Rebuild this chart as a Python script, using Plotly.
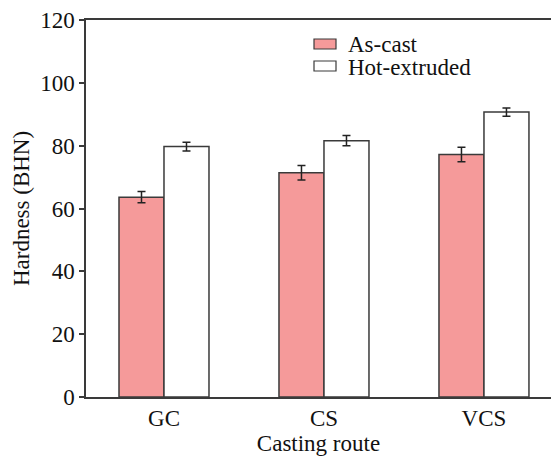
import plotly.graph_objects as go

categories = ["GC", "CS", "VCS"]
as_cast = [63.6, 71.4, 77.2]
as_cast_err = [1.8, 2.3, 2.3]
hot_extruded = [79.7, 81.6, 90.7]
hot_extruded_err = [1.4, 1.6, 1.3]
y_ticks = [0, 20, 40, 60, 80, 100, 120]
series_names = ["As-cast", "Hot-extruded"]
series_colors = ["#F59A9A", "#FFFFFF"]

FONT = "Liberation Serif"
LINE = "#3a3a3a"
FS = 23

# plot area in pixels (for placing the hand-drawn legend)
L, R, T, B = 86, 551, 20, 397
def px(x):
    return (x - L) / (R - L)
def py(y):
    return (B - y) / (B - T)

fig = go.Figure()
for name, color, vals, errs in [
    (series_names[0], series_colors[0], as_cast, as_cast_err),
    (series_names[1], series_colors[1], hot_extruded, hot_extruded_err),
]:
    fig.add_trace(go.Bar(
        x=categories, y=vals, name=name,
        marker=dict(color=color, line=dict(color=LINE, width=1.5)),
        error_y=dict(type="data", array=errs, color="#222222", thickness=1.5, width=4),
        showlegend=False,
    ))

# legend (rectangular swatches like the reference)
legend_rows = [(39, 49, 45), (61, 71, 67)]
for (y0, y1, yc), name, color in zip(legend_rows, series_names, series_colors):
    fig.add_shape(type="rect", xref="paper", yref="paper",
                  x0=px(314), x1=px(336), y0=py(y1), y1=py(y0),
                  fillcolor=color, line=dict(color=LINE, width=1.2))
    fig.add_annotation(xref="paper", yref="paper", x=px(346), y=py(yc),
                       xanchor="left", yanchor="middle", showarrow=False,
                       text=name, font=dict(family=FONT, size=FS, color="#111111"))

fig.update_layout(
    width=551, height=461,
    margin=dict(l=L, r=551 - R, t=T, b=461 - B),
    paper_bgcolor="white", plot_bgcolor="white",
    barmode="group", bargap=0.4375, bargroupgap=0,
    font=dict(family=FONT, size=FS, color="#111111"),
    showlegend=False,
)
fig.update_xaxes(
    range=[-0.4875, 2.419], showline=True, linecolor=LINE, linewidth=1.5,
    mirror=True, ticks="", showgrid=False, zeroline=False,
    title=dict(text="Casting route", font=dict(family=FONT, size=FS), standoff=2),
    tickfont=dict(family=FONT, size=FS),
)
fig.update_yaxes(
    range=[0, 120], tickvals=y_ticks, showline=True, linecolor=LINE, linewidth=1.5,
    ticks="outside", ticklen=5, tickwidth=1.5, tickcolor=LINE, showgrid=False, zeroline=False,
    title=dict(text="Hardness (BHN)", font=dict(family=FONT, size=FS), standoff=4),
    tickfont=dict(family=FONT, size=FS),
)

fig.write_html("out.html", config={"displayModeBar": False},
               post_script="document.body.style.margin='0px';")
